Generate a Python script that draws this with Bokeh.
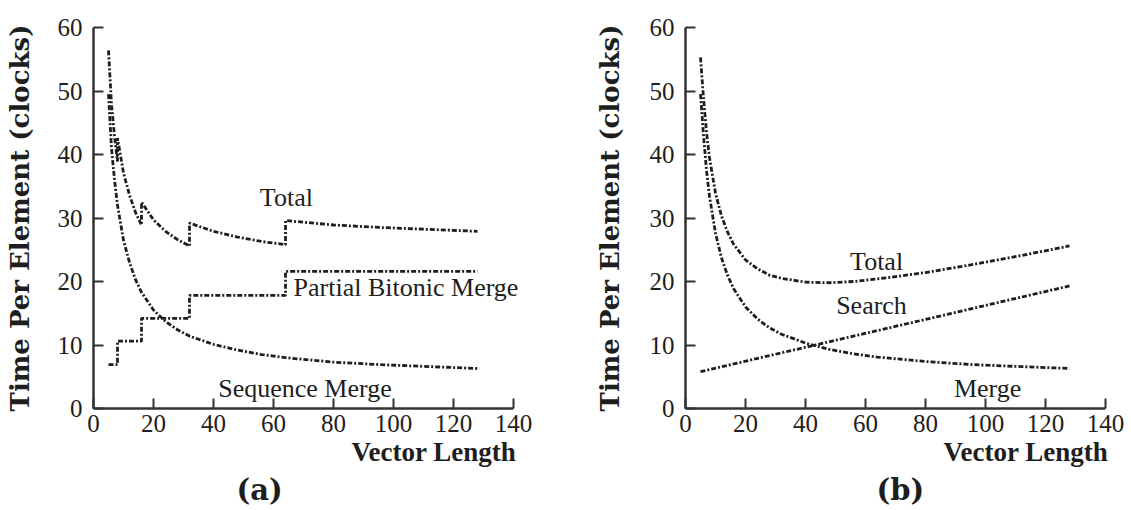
from bokeh.plotting import figure
from bokeh.models import Range1d, Label, FixedTicker, Title
from bokeh.layouts import row
from bokeh.embed import file_html
from bokeh.resources import INLINE

# ---- (a) bitonic-merge based: sequence merge + partial bitonic merge ----
seq_x = [5, 6, 7, 8, 10, 12, 14, 16, 20, 24, 28, 32, 40, 48, 56, 64, 80, 96, 112, 128]
seq_merge = [49.5, 41.0, 36.0, 32.0, 26.5, 23.0, 20.3, 18.3, 15.5, 13.7, 12.4, 11.4,
             10.1, 9.2, 8.5, 8.0, 7.3, 6.9, 6.6, 6.3]

pbm_x = [5, 8, 16, 32, 64, 128]
pbm_levels = [6.9, 10.6, 14.2, 17.8, 21.6, 21.6]

total_a_x = [5, 6, 7, 8, 8, 10, 12, 14, 16, 16, 20, 24, 28, 32, 32, 40, 48, 56,
             64, 64, 80, 96, 112, 128]
total_a = [56.4, 47.9, 42.9, 38.9, 42.6, 37.1, 33.6, 30.9, 28.9, 32.5, 29.7, 27.9,
           26.6, 25.6, 29.2, 27.9, 27.0, 26.3, 25.8, 29.6, 28.9, 28.5, 28.2, 27.9]

# ---- (b) search based: merge + search ----
b_x = [5, 6, 7, 8, 10, 12, 14, 16, 20, 24, 28, 32, 40, 48, 56, 64, 80, 96, 112, 128]
merge_b = [49.5, 43.0, 37.5, 33.4, 27.6, 23.7, 21.0, 18.9, 16.0, 14.1, 12.7, 11.7,
           10.3, 9.3, 8.6, 8.1, 7.4, 6.9, 6.6, 6.3]
search_x = [5, 128]
search_b = [5.8, 19.3]
total_b = [55.3, 48.9, 43.5, 39.5, 33.9, 30.3, 27.8, 25.9, 23.4, 22.0, 21.0, 20.5,
           19.9, 19.8, 20.0, 20.4, 21.4, 22.7, 24.1, 25.6]

x_ticks = [0, 20, 40, 60, 80, 100, 120, 140]
y_ticks = [0, 10, 20, 30, 40, 50, 60]

INK = "#1e1e1e"
AXIS = "#333333"
SERIF = "Liberation Serif"
DASH = "5 2 2 2"
LW = 2.8


def make_panel(left, right, caption, caption_offset):
    # the frame runs a little past x=140 so that curve notes are not cut off;
    # the axis line itself stops at 140
    p = figure(frame_width=450, frame_height=381,
               x_range=Range1d(0, 150), y_range=Range1d(0, 60),
               output_backend="svg", toolbar_location=None,
               min_border_left=left, min_border_right=right,
               min_border_top=27, min_border_bottom=0)
    p.outline_line_color = None
    p.grid.visible = False
    p.background_fill_color = "white"
    p.border_fill_color = "white"
    for ax, ticks in ((p.xaxis, x_ticks), (p.yaxis, y_ticks)):
        ax.ticker = FixedTicker(ticks=ticks)
        ax.axis_line_color = AXIS
        ax.axis_line_width = 2.5
        ax.major_tick_line_color = AXIS
        ax.major_tick_line_width = 2
        ax.major_tick_in = 10
        ax.major_tick_out = 0
        ax.minor_tick_line_color = None
        ax.major_label_text_font = SERIF
        ax.major_label_text_font_size = "25px"
        ax.major_label_text_color = INK
    p.xaxis.bounds = (0, 140)
    p.xaxis.major_label_standoff = 6
    p.yaxis.major_label_standoff = 11
    p.yaxis.axis_label = "Time Per Element (clocks)"
    p.yaxis.axis_label_text_font = "DejaVu Serif"
    p.yaxis.axis_label_text_font_style = "bold"
    p.yaxis.axis_label_text_font_size = "26px"
    p.yaxis.axis_label_text_color = INK
    p.yaxis.axis_label_standoff = 20
    p.add_layout(Title(text="Vector Length", align="left", offset=258,
                       text_font=SERIF, text_font_style="bold",
                       text_font_size="27px", text_color=INK, standoff=0), "below")
    p.add_layout(Title(text=caption, align="left", offset=caption_offset,
                       text_font="DejaVu Serif", text_font_style="bold",
                       text_font_size="29px", text_color=INK, standoff=8), "below")
    return p


def note(p, x, y, text, align="center"):
    p.add_layout(Label(x=x, y=y, text=text, text_align=align, text_baseline="middle",
                       text_font=SERIF, text_font_size="26px", text_color=INK))


# panel (a)
pa = make_panel(93, 17, "(a)", 143)
pa.line(seq_x, seq_merge, line_color=INK, line_width=LW, line_dash=DASH)
pa.step(pbm_x, pbm_levels, mode="after", line_color=INK, line_width=LW, line_dash=DASH)
pa.line(total_a_x, total_a, line_color=INK, line_width=LW, line_dash=DASH)
note(pa, 64.3, 33.2, "Total")
note(pa, 66.7, 19.0, "Partial Bitonic Merge", align="left")
note(pa, 70.5, 3.1, "Sequence Merge")

# panel (b)
pb = make_panel(125, 0, "(b)", 191)
pb.line(b_x, merge_b, line_color=INK, line_width=LW, line_dash=DASH)
pb.line(search_x, search_b, line_color=INK, line_width=LW, line_dash=DASH)
pb.line(b_x, total_b, line_color=INK, line_width=LW, line_dash=DASH)
pb.yaxis.axis_label_standoff = 22
note(pb, 63.7, 23.2, "Total")
note(pb, 62.0, 16.2, "Search")
note(pb, 100.7, 3.1, "Merge")

layout = row(pa, pb)
open("out.html", "w").write(file_html(layout, INLINE))
